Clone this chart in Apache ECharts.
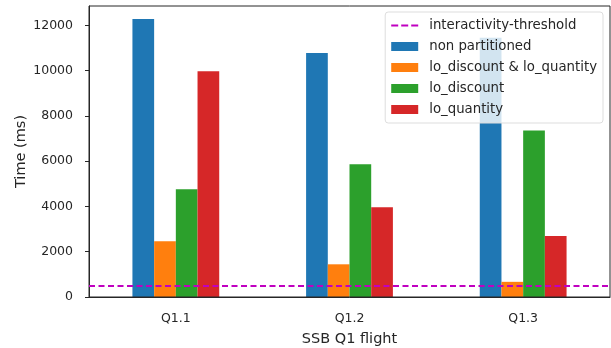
<!DOCTYPE html>
<html><head><meta charset="utf-8">
<script src="https://cdn.jsdelivr.net/npm/echarts@6/dist/echarts.min.js"></script>
<style>html,body{margin:0;padding:0;background:#fff}#c{width:611px;height:348px}</style>
</head><body><div id="c"></div>
<script>
var categories = ['Q1.1', 'Q1.2', 'Q1.3'];
var seriesNames = ['non partitioned', 'lo_discount & lo_quantity', 'lo_discount', 'lo_quantity'];
var nonPartitioned = [12280, 10780, 11460];
var loDiscountQuantity = [2460, 1445, 670];
var loDiscount = [4765, 5870, 7360];
var loQuantity = [9980, 3970, 2700];
var threshold = 500;
var yTicks = [0, 2000, 4000, 6000, 8000, 10000, 12000];

var colors = ['#1f77b4', '#ff7f0e', '#2ca02c', '#d62728'];
var values = [nonPartitioned, loDiscountQuantity, loDiscount, loQuantity];
var font = 'DejaVu Sans';
var txt = '#262626';
var dashIcon = 'path://M0,0 M27,9 M0,3.5h7v2h-7z M10,3.5h7v2h-7z M20,3.5h7v2h-7z';

var barSeries = seriesNames.map(function (n, i) {
  return {
    name: n, type: 'bar', data: values[i], barWidth: 21.7, barGap: '0%',
    itemStyle: { color: colors[i] }, z: 2
  };
});

var option = {
  animation: false,
  grid: { left: 89, right: 1, top: 6, bottom: 51, show: true, borderColor: txt, borderWidth: 1,
    backgroundColor: 'transparent', z: 5, outerBoundsMode: 'none', containLabel: false },
  legend: {
    orient: 'vertical', right: 8, top: 12,
    padding: [7, 6, 7, 6], itemGap: 8, itemWidth: 27, itemHeight: 9,
    backgroundColor: 'rgba(255,255,255,0.8)', borderColor: '#dddddd', borderWidth: 1, borderRadius: 3,
    textStyle: { fontFamily: font, fontSize: 13.3, color: txt, padding: [0, 0, 0, 6] },
    data: [{ name: 'interactivity-threshold', icon: dashIcon, itemStyle: { color: '#c000c0' } }]
      .concat(seriesNames.map(function (n) { return { name: n, icon: 'rect' }; })),
    z: 10
  },
  xAxis: {
    type: 'category', data: categories,
    name: 'SSB Q1 flight', nameLocation: 'middle', nameGap: 35,
    nameTextStyle: { fontFamily: font, fontSize: 14.5, color: txt },
    axisLine: { lineStyle: { color: txt, width: 1 } },
    axisTick: { alignWithLabel: true, length: 4, lineStyle: { color: txt } },
    axisLabel: { fontFamily: font, fontSize: 12.5, color: txt, margin: 15 },
    splitLine: { show: false }
  },
  yAxis: {
    type: 'value', min: 0, max: 12860, interval: 2000,
    name: 'Time (ms)', nameLocation: 'middle', nameGap: 60, nameMoveOverlap: false,
    nameTextStyle: { fontFamily: font, fontSize: 14.5, color: txt },
    axisLine: { show: true, lineStyle: { color: txt, width: 1 } },
    axisTick: { show: true, length: 4, lineStyle: { color: txt } },
    axisLabel: { fontFamily: font, fontSize: 12.5, color: txt, margin: 16, showMaxLabel: false,
      formatter: function (v) { return yTicks.indexOf(v) >= 0 ? String(v) : ''; } },
    splitLine: { show: false }
  },
  series: [{
    name: 'interactivity-threshold', type: 'line', data: [], symbol: 'none',
    itemStyle: { color: '#c000c0' },
    lineStyle: { color: '#c000c0', width: 2, type: [6, 3.5] },
    z: 4,
    markLine: {
      silent: true, symbol: 'none', label: { show: false },
      lineStyle: { color: '#c000c0', width: 2, type: [6, 3.5] },
      data: [{ yAxis: threshold }]
    }
  }].concat(barSeries)
};
echarts.init(document.getElementById('c')).setOption(option);
</script></body></html>
